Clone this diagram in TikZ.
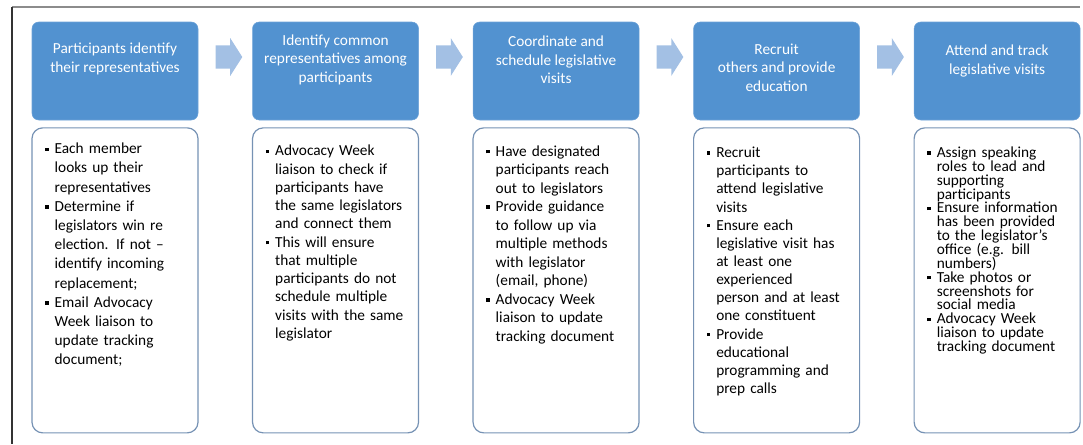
\documentclass[tikz,border=0pt]{standalone}
\usepackage{fontspec}
\setmainfont{Carlito}
\usepackage{enumitem}
\usetikzlibrary{positioning,calc,shapes.arrows}

\definecolor{headblue}{RGB}{82,146,208}
\definecolor{arrowblue}{RGB}{163,192,228}
\definecolor{bodyline}{RGB}{118,146,180}
\definecolor{framegray}{RGB}{140,140,140}

\setlist[itemize]{leftmargin=7.5pt,labelsep=4.5pt,itemsep=0pt,parsep=0pt,topsep=0pt,partopsep=0pt,
  label=\rule[0.18em]{2.6pt}{2.6pt}}

\tikzset{
  head/.style={rectangle, rounded corners=5pt, fill=headblue, draw=headblue!85!white,
    minimum width=124.5pt, minimum height=73.5pt, inner sep=0pt},
  headtext/.style={text=white, align=center, inner sep=0pt,
    font=\fontsize{11.5}{14}\selectfont},
  body/.style={rectangle, rounded corners=8pt, draw=bodyline, line width=0.9pt, fill=white,
    minimum width=124.5pt, minimum height=228.75pt, inner sep=0pt},
  bodytext/.style={text width=114pt, align=left, anchor=north west, inner sep=0pt,
    font=\fontsize{11.5}{#1}\selectfont},
  bodytext/.default=14pt,
  steparrow/.style={single arrow, fill=arrowblue, draw=none, inner xsep=0pt, inner ysep=8.5pt,
    minimum height=20pt, single arrow head extend=5.5pt, single arrow tip angle=115}
}

\begin{document}
\begin{tikzpicture}[x=0.75pt,y=-0.75pt]
 \useasboundingbox (0,0) rectangle (1083,444);
 % frame
 \draw[framegray, line width=2.2pt] (12,7) -- (1080,7);
 \draw[black!80, line width=1.3pt] (12,7) -- (12,444);

 % step headers
 \node[head] (head1) at (115,71) {};
 \node[head, right = 40.5pt of head1] (head2) {};
 \node[head, right = 40.5pt of head2] (head3) {};
 \node[head, right = 40.5pt of head3] (head4) {};
 \node[head, right = 40.5pt of head4] (head5) {};

 \node[headtext] (h1) at ($(head1.north)+(0,37)$) {Participants identify\\their representatives};
 \node[headtext] (h2) at ($(head2.north)+(0,38)$) {Identify common\\representatives among\\participants};
 \node[headtext] (h3) at ($(head3.north)+(0,38)$) {Coordinate and\\schedule legislative\\visits};
 \node[headtext] (h4) at ($(head4.north)+(0,46)$) {Recruit\\others and provide\\education};
 \node[headtext] (h5) at ($(head5.north)+(0,39)$) {Attend and track\\legislative visits};

 % arrows between steps
 \node[steparrow] (arr1) at ($(head1.east)!0.5!(head2.west)+(0,-14)$) {};
 \node[steparrow] (arr2) at ($(head2.east)!0.5!(head3.west)+(0,-14)$) {};
 \node[steparrow] (arr3) at ($(head3.east)!0.5!(head4.west)+(0,-14)$) {};
 \node[steparrow] (arr4) at ($(head4.east)!0.5!(head5.west)+(0,-14)$) {};

 % detail boxes
 \node[body, below = 5.25pt of head1] (body1) {};
 \node[body, below = 5.25pt of head2] (body2) {};
 \node[body, below = 5.25pt of head3] (body3) {};
 \node[body, below = 5.25pt of head4] (body4) {};
 \node[body, below = 5.25pt of head5] (body5) {};

 \node[bodytext=14.4pt] (t1) at ($(body1.north west)+(13,7)$) {%
  \begin{itemize}
   \item Each member\\looks up their\\representatives
   \item Determine if\\legislators win re\\election. If not –\\identify incoming\\replacement;
   \item Email Advocacy\\Week liaison to\\update tracking\\document;
  \end{itemize}};
 \node[bodytext=13.7pt] (t2) at ($(body2.north west)+(13,10)$) {%
  \begin{itemize}
   \item Advocacy Week\\liaison to check if\\participants have\\the same legislators\\and connect them
   \item This will ensure\\that multiple\\participants do not\\schedule multiple\\visits with the same\\legislator
  \end{itemize}};
 \node[bodytext=13.9pt] (t3) at ($(body3.north west)+(13,10)$) {%
  \begin{itemize}
   \item Have designated\\participants reach\\out to legislators
   \item Provide guidance\\to follow up via\\multiple methods\\with legislator\\(email, phone)
   \item Advocacy Week\\liaison to update\\tracking document
  \end{itemize}};
 \node[bodytext=13.6pt] (t4) at ($(body4.north west)+(13,12)$) {%
  \begin{itemize}
   \item Recruit\\participants to\\attend legislative\\visits
   \item Ensure each\\legislative visit has\\at least one\\experienced\\person and at least\\one constituent
   \item Provide\\educational\\programming and\\prep calls
  \end{itemize}};
 \node[bodytext=10.4pt] (t5) at ($(body5.north west)+(13,16)$) {%
  \begin{itemize}
   \item Assign speaking\\roles to lead and\\supporting\\participants
   \item Ensure information\\has been provided\\to the legislator’s\\office (e.g. bill\\numbers)
   \item Take photos or\\screenshots for\\social media
   \item Advocacy Week\\liaison to update\\tracking document
  \end{itemize}};
\end{tikzpicture}
\end{document}
